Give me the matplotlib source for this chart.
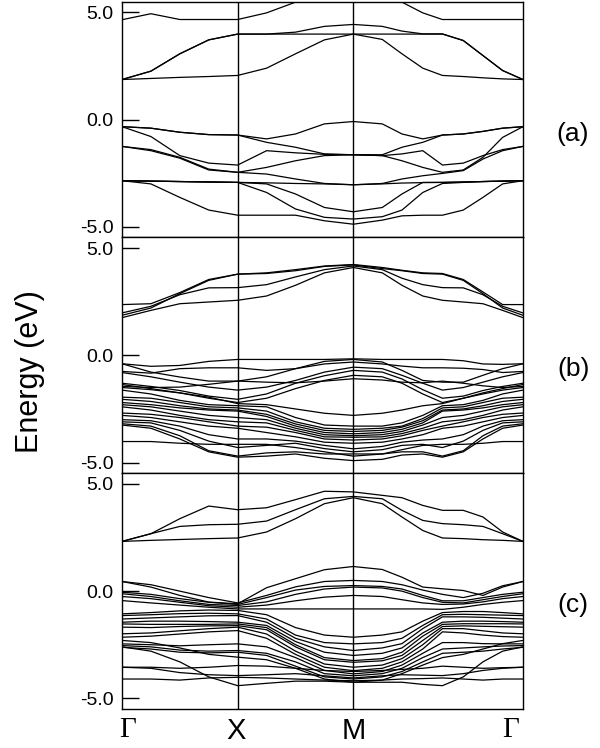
import matplotlib
matplotlib.use("Agg")
import matplotlib.pyplot as plt
import matplotlib.transforms as mtransforms

# k-path distances (Gamma-X = 1), k-point labels
kdist = [0.0, 0.25, 0.5, 0.75, 1.0, 1.25, 1.5, 1.75, 2.0,
         2.25, 2.42, 2.60, 2.77, 2.95, 3.12, 3.29, 3.466]
klabel_idx = [0, 4, 8, 16]
klabels = ["Γ", "X", "M", "Γ"]
yticks = [-5.0, 0.0, 5.0]
ytick_labels = ["-5.0", "0.0", "5.0"]
panel_labels = ["(a)", "(b)", "(c)"]

# ---------------- panel (a) ----------------
a_cond = [
    [4.66, 4.94, 4.67, 4.67, 4.67, 4.98, 5.48, 6.00, 6.30, 6.00, 5.48, 4.98, 4.67, 4.67, 4.67, 4.67, 4.67],
    [1.87, 2.26, 3.07, 3.72, 3.99, 3.99, 4.08, 4.35, 4.44, 4.35, 4.13, 4.00, 4.00, 3.69, 2.99, 2.29, 1.87],
    [1.87, 2.26, 3.07, 3.72, 3.99, 3.99, 3.99, 3.99, 3.99, 3.99, 3.99, 3.99, 3.99, 3.69, 2.99, 2.29, 1.87],
    [1.87, 1.92, 1.97, 2.01, 2.06, 2.40, 3.07, 3.72, 3.99, 3.74, 3.07, 2.40, 2.06, 2.01, 1.95, 1.90, 1.87],
]
a_val = [
    [-0.33, -0.40, -0.59, -0.70, -0.72, -0.90, -0.67, -0.20, -0.09, -0.20, -0.67, -0.90, -0.72, -0.67, -0.55, -0.40, -0.33],
    [-0.33, -0.40, -0.59, -0.70, -0.72, -1.06, -1.29, -1.60, -1.64, -1.64, -1.29, -1.06, -0.72, -0.67, -0.55, -0.40, -0.33],
    [-0.33, -0.79, -1.68, -2.03, -2.12, -1.45, -1.55, -1.62, -1.64, -1.68, -1.92, -2.23, -2.46, -2.35, -1.76, -0.83, -0.33],
    [-1.25, -1.40, -1.76, -2.31, -2.46, -2.23, -1.92, -1.68, -1.64, -1.68, -1.60, -1.45, -2.12, -2.03, -1.68, -1.40, -1.25],
    [-1.25, -1.45, -1.80, -2.35, -2.46, -2.54, -2.77, -2.98, -3.04, -2.98, -2.77, -2.62, -2.51, -2.38, -1.84, -1.45, -1.25],
    [-2.85, -2.87, -2.89, -2.91, -2.93, -2.95, -2.98, -3.00, -3.04, -3.00, -2.96, -2.94, -2.93, -2.91, -2.89, -2.87, -2.85],
    [-2.85, -3.00, -3.63, -4.22, -4.46, -4.46, -4.46, -4.72, -4.88, -4.69, -4.49, -4.46, -4.46, -4.22, -3.63, -3.00, -2.85],
    [-2.85, -2.87, -2.89, -2.91, -2.93, -3.40, -4.17, -4.56, -4.64, -4.53, -4.22, -3.40, -2.98, -2.93, -2.89, -2.87, -2.85],
    [-2.85, -2.87, -2.89, -2.91, -2.93, -3.00, -3.47, -4.10, -4.30, -4.10, -3.47, -2.93, -2.93, -2.91, -2.89, -2.87, -2.85],
]

# ---------------- panel (b) ----------------
b_cond = [
    [2.37, 2.41, 2.93, 3.54, 3.79, 3.85, 4.00, 4.17, 4.24, 4.10, 3.97, 3.85, 3.82, 3.54, 2.96, 2.37, 2.37],
    [1.98, 2.29, 2.83, 3.15, 3.16, 3.30, 3.66, 4.00, 4.17, 4.00, 3.60, 3.30, 3.16, 3.15, 2.83, 2.29, 1.98],
    [1.76, 2.10, 2.41, 2.49, 2.57, 2.77, 3.27, 3.85, 4.10, 3.85, 3.27, 2.77, 2.57, 2.49, 2.41, 2.10, 1.76],
    [1.87, 2.21, 2.88, 3.50, 3.79, 3.82, 3.95, 4.15, 4.22, 4.05, 3.95, 3.82, 3.79, 3.50, 2.88, 2.21, 1.87],
]
b_val = [
    [-0.39, -0.51, -0.47, -0.28, -0.19, -0.19, -0.19, -0.19, -0.16, -0.19, -0.19, -0.19, -0.19, -0.25, -0.40, -0.42, -0.39],
    [-0.39, -0.78, -1.01, -1.20, -1.20, -1.00, -0.62, -0.28, -0.19, -0.31, -0.70, -1.17, -1.25, -1.25, -0.93, -0.62, -0.39],
    [-0.75, -0.83, -0.62, -0.58, -0.58, -0.70, -0.62, -0.40, -0.31, -0.40, -0.50, -0.58, -0.58, -0.60, -0.66, -0.80, -0.75],
    [-0.80, -1.00, -1.25, -1.48, -1.62, -1.48, -1.17, -0.78, -0.55, -0.62, -0.93, -1.30, -1.62, -1.50, -1.25, -1.00, -0.80],
    [-1.30, -1.45, -1.64, -1.90, -2.05, -1.80, -1.30, -0.95, -0.70, -0.78, -1.10, -1.60, -2.00, -1.90, -1.64, -1.45, -1.30],
    [-1.36, -1.55, -1.75, -2.00, -2.20, -2.00, -1.55, -1.17, -0.93, -1.00, -1.30, -1.80, -2.20, -2.00, -1.75, -1.55, -1.36],
    [-1.45, -1.50, -1.48, -1.35, -1.20, -1.25, -1.28, -1.20, -1.09, -1.15, -1.25, -1.28, -1.20, -1.30, -1.42, -1.50, -1.45],
    [-1.50, -1.60, -1.75, -1.95, -2.25, -2.30, -2.50, -2.70, -2.80, -2.70, -2.55, -2.35, -2.25, -2.00, -1.80, -1.62, -1.50],
    [-1.62, -1.80, -2.10, -2.30, -2.35, -2.40, -2.90, -3.25, -3.30, -3.30, -3.15, -2.80, -2.35, -2.30, -2.10, -1.80, -1.62],
    [-1.95, -2.00, -2.20, -2.40, -2.45, -2.60, -3.10, -3.40, -3.45, -3.40, -3.30, -2.95, -2.45, -2.40, -2.20, -2.00, -1.95],
    [-2.05, -2.15, -2.35, -2.50, -2.55, -2.75, -3.20, -3.50, -3.55, -3.50, -3.35, -3.05, -2.55, -2.50, -2.35, -2.15, -2.05],
    [-2.20, -2.30, -2.45, -2.55, -2.60, -2.85, -3.30, -3.60, -3.66, -3.60, -3.45, -3.15, -2.60, -2.55, -2.45, -2.30, -2.20],
    [-2.30, -2.40, -2.60, -2.80, -2.90, -3.00, -3.40, -3.70, -3.75, -3.70, -3.55, -3.25, -2.90, -2.80, -2.60, -2.40, -2.30],
    [-2.40, -2.55, -2.80, -3.00, -3.10, -3.15, -3.50, -3.80, -3.82, -3.80, -3.65, -3.40, -3.10, -3.00, -2.80, -2.55, -2.40],
    [-2.69, -2.75, -2.90, -3.10, -3.30, -3.35, -3.60, -3.90, -3.95, -3.90, -3.75, -3.50, -3.30, -3.10, -2.90, -2.75, -2.69],
    [-2.80, -2.90, -3.10, -3.30, -3.40, -3.60, -3.80, -4.05, -4.10, -4.05, -3.90, -3.70, -3.40, -3.30, -3.10, -2.90, -2.80],
    [-3.00, -3.05, -3.30, -3.70, -3.90, -3.90, -4.00, -4.20, -4.36, -4.25, -4.05, -3.95, -3.90, -3.70, -3.30, -3.05, -3.00],
    [-3.10, -3.15, -3.50, -4.00, -4.30, -4.20, -4.10, -4.35, -4.50, -4.40, -4.20, -4.15, -4.30, -4.00, -3.50, -3.15, -3.10],
    [-3.19, -3.30, -3.75, -4.45, -4.70, -4.55, -4.50, -4.60, -4.60, -4.60, -4.50, -4.50, -4.70, -4.45, -3.75, -3.30, -3.19],
    [-3.25, -3.40, -3.90, -4.50, -4.75, -4.70, -4.60, -4.80, -4.91, -4.85, -4.65, -4.60, -4.75, -4.50, -3.90, -3.40, -3.25],
    [-4.02, -4.02, -4.10, -4.15, -4.15, -4.15, -4.30, -4.50, -4.70, -4.60, -4.40, -4.20, -4.15, -4.15, -4.10, -4.02, -4.02],
]

# ---------------- panel (c) ----------------
c_cond = [
    [2.32, 2.68, 3.38, 3.97, 3.80, 3.89, 4.27, 4.66, 4.63, 4.47, 4.36, 4.00, 3.77, 3.77, 3.46, 2.76, 2.32],
    [2.32, 2.68, 3.02, 3.10, 3.12, 3.27, 3.80, 4.31, 4.42, 4.31, 3.77, 3.30, 3.15, 3.10, 3.02, 2.68, 2.32],
    [2.32, 2.37, 2.41, 2.45, 2.48, 2.76, 3.38, 4.08, 4.36, 4.08, 3.46, 2.83, 2.48, 2.45, 2.40, 2.37, 2.32],
]
c_val = [
    [0.45, 0.19, -0.20, -0.51, -0.59, 0.16, 0.58, 1.00, 1.15, 1.01, 0.65, 0.19, 0.11, 0.03, -0.20, 0.19, 0.45],
    [0.45, 0.30, 0.00, -0.30, -0.55, -0.20, 0.20, 0.45, 0.50, 0.45, 0.30, 0.05, -0.15, -0.30, -0.10, 0.25, 0.45],
    [-0.05, -0.15, -0.35, -0.52, -0.62, -0.30, 0.05, 0.22, 0.26, 0.22, 0.10, -0.20, -0.45, -0.45, -0.30, -0.15, -0.05],
    [-0.12, -0.25, -0.45, -0.62, -0.67, -0.50, -0.15, 0.10, 0.19, 0.15, 0.00, -0.30, -0.52, -0.55, -0.40, -0.25, -0.12],
    [-0.25, -0.35, -0.52, -0.68, -0.75, -0.65, -0.45, -0.28, -0.20, -0.25, -0.40, -0.55, -0.62, -0.60, -0.50, -0.35, -0.25],
    [-0.44, -0.55, -0.65, -0.75, -0.83, -0.83, -0.83, -0.83, -0.83, -0.83, -0.83, -0.83, -0.85, -0.75, -0.62, -0.52, -0.44],
    [-1.06, -1.00, -0.92, -0.88, -0.90, -1.10, -1.70, -2.05, -2.15, -2.05, -1.90, -1.40, -1.00, -0.95, -0.95, -1.00, -1.06],
    [-1.14, -1.10, -1.05, -1.03, -1.06, -1.30, -2.05, -2.40, -2.46, -2.40, -2.20, -1.60, -1.10, -1.08, -1.10, -1.12, -1.14],
    [-1.30, -1.25, -1.20, -1.15, -1.14, -1.45, -2.20, -2.60, -2.77, -2.65, -2.45, -1.75, -1.20, -1.20, -1.22, -1.26, -1.30],
    [-1.45, -1.40, -1.40, -1.42, -1.45, -1.60, -2.35, -2.85, -3.00, -2.90, -2.65, -1.95, -1.45, -1.40, -1.40, -1.42, -1.45],
    [-1.53, -1.55, -1.55, -1.55, -1.53, -1.70, -2.50, -3.10, -3.24, -3.15, -2.85, -2.10, -1.55, -1.52, -1.52, -1.52, -1.53],
    [-1.68, -1.70, -1.65, -1.62, -1.61, -1.80, -2.60, -3.20, -3.32, -3.25, -3.00, -2.30, -1.65, -1.62, -1.64, -1.66, -1.68],
    [-1.99, -1.95, -1.85, -1.75, -1.68, -2.00, -2.80, -3.40, -3.55, -3.45, -3.15, -2.50, -1.75, -1.75, -1.85, -1.95, -1.99],
    [-2.15, -2.10, -2.00, -1.90, -1.84, -2.20, -2.95, -3.55, -3.71, -3.60, -3.30, -2.70, -1.90, -1.95, -2.05, -2.12, -2.15],
    [-2.46, -2.50, -2.55, -2.50, -2.46, -2.60, -3.10, -3.70, -3.86, -3.75, -3.45, -2.90, -2.40, -2.40, -2.45, -2.46, -2.46],
    [-2.54, -2.60, -2.75, -2.80, -2.77, -2.90, -3.30, -3.85, -3.95, -3.85, -3.60, -3.10, -2.70, -2.65, -2.60, -2.56, -2.54],
    [-2.62, -2.70, -2.85, -2.88, -2.85, -3.00, -3.50, -4.00, -4.10, -4.00, -3.75, -3.30, -2.90, -2.85, -2.80, -2.70, -2.62],
    [-2.30, -2.40, -2.65, -2.95, -3.08, -3.20, -3.60, -4.10, -4.25, -4.15, -3.85, -3.45, -3.10, -2.95, -2.70, -2.45, -2.30],
    [-3.55, -3.55, -3.60, -3.55, -3.47, -3.50, -3.60, -3.70, -3.75, -3.70, -3.65, -3.60, -3.50, -3.55, -3.60, -3.57, -3.55],
    [-3.55, -3.60, -3.80, -3.90, -3.94, -3.90, -3.85, -3.95, -4.05, -3.95, -3.90, -3.92, -3.94, -3.85, -3.70, -3.60, -3.55],
    [-4.10, -4.10, -4.15, -4.05, -4.02, -4.05, -4.10, -4.15, -4.18, -4.15, -4.10, -4.08, -4.05, -4.10, -4.15, -4.10, -4.10],
    [-2.60, -2.80, -3.30, -4.00, -4.41, -4.30, -4.20, -4.20, -4.25, -4.25, -4.25, -4.35, -4.41, -4.00, -3.30, -2.80, -2.60],
]

panels = [(a_cond, a_val), (b_cond, b_val), (c_cond, c_val)]

fig = plt.figure(figsize=(6.0, 7.48), dpi=100)
left, width = 0.2033, 0.6683
height = 0.3152
bottoms = [0.0521 + 2 * height, 0.0521 + height, 0.0521]
sans = ["Liberation Sans", "DejaVu Sans"]
serif = ["Liberation Serif", "DejaVu Serif"]

# horizontal nudges (points) of the k-point labels, as in the original layout
klabel_dx = [4, -1, 0, -9]

for i, (cond, val) in enumerate(panels):
    ax = fig.add_axes([left, bottoms[i], width, height])
    for band in cond + val:
        ax.plot(kdist, band, color="black", lw=0.9, solid_joinstyle="miter")
    for idx in klabel_idx[1:-1]:
        ax.axvline(kdist[idx], color="black", lw=1.0)
    ax.set_xlim(kdist[0], kdist[-1])
    ax.set_ylim(-5.5, 5.5)
    ax.set_yticks(yticks)
    ax.set_yticklabels(ytick_labels, fontfamily=sans, fontsize=14)
    ax.tick_params(axis="y", direction="in", length=12, width=1.0, pad=6, right=False)
    ax.set_xticks([])
    for s in ax.spines.values():
        s.set_linewidth(1.0)
    ax.text(1.125, -0.65, panel_labels[i],
            transform=mtransforms.blended_transform_factory(ax.transAxes, ax.transData),
            fontsize=19, fontfamily=sans, ha="center", va="center")
    if i == 2:
        trans = mtransforms.blended_transform_factory(ax.transData, ax.transAxes)
        for j, idx in enumerate(klabel_idx):
            fam = serif if klabels[j] == "Γ" else sans
            ax.annotate(klabels[j], xy=(kdist[idx], 0), xycoords=trans,
                        xytext=(klabel_dx[j], -6), textcoords="offset points",
                        ha="center", va="top", fontsize=21, fontfamily=fam,
                        annotation_clip=False)

fig.text(0.05, 0.503, "Energy (eV)", rotation=90, fontsize=22, fontfamily=sans,
         ha="center", va="center")

fig.savefig("out.png", dpi=100)
